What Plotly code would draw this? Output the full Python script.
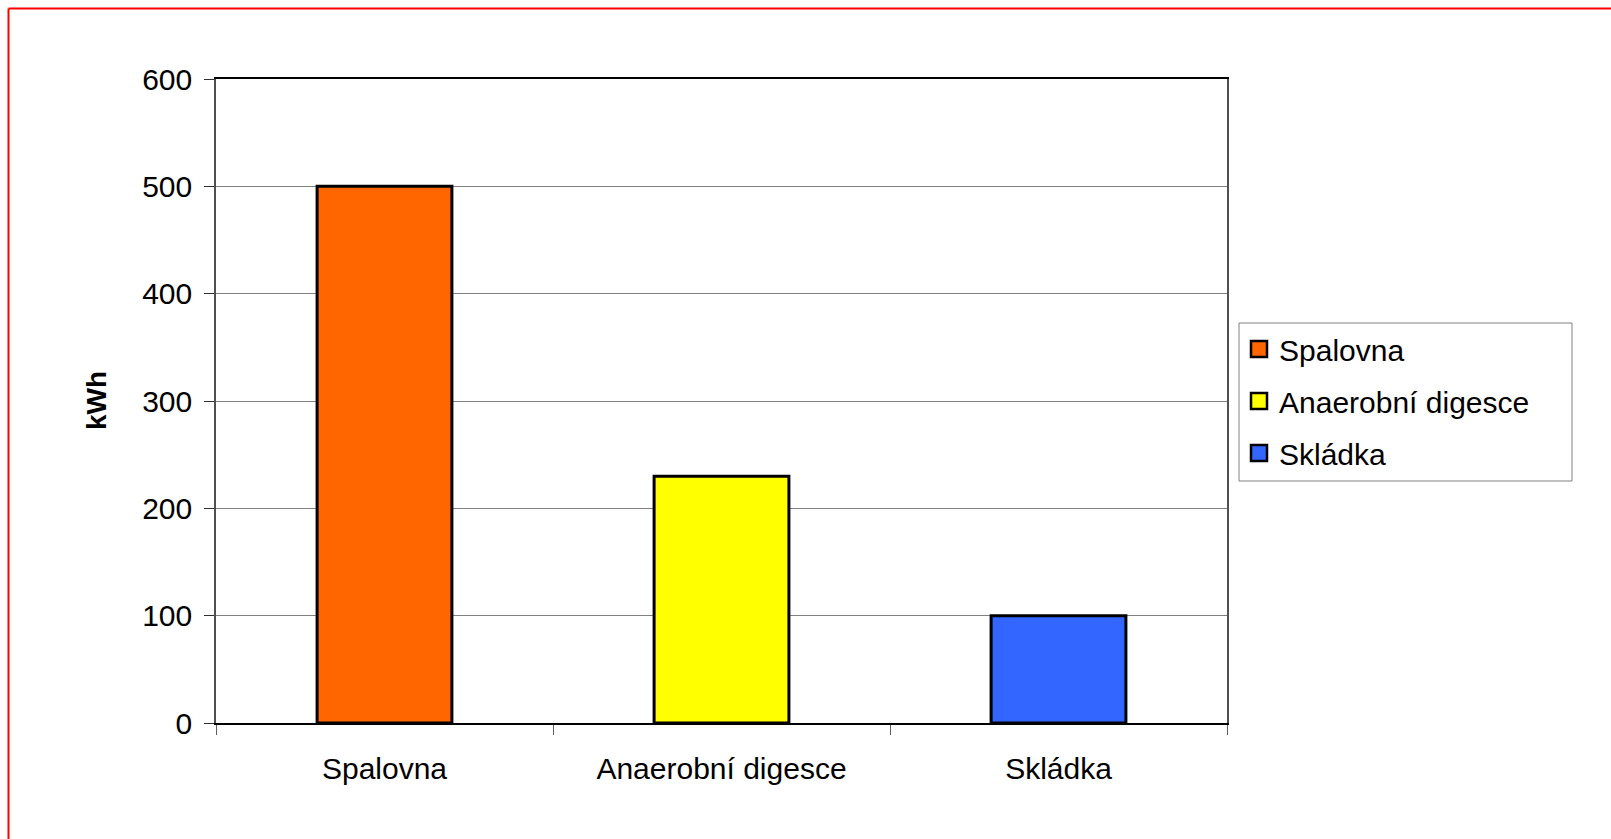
import plotly.graph_objects as go

categories = ["Spalovna", "Anaerobní digesce", "Skládka"]
values = [500, 230, 100]
colors = ["#FF6600", "#FFFF00", "#3366FF"]
y_ticks = [0, 100, 200, 300, 400, 500, 600]
y_title = "kWh"

W, H = 1611, 839
L, R, T, B = 216, 1227, 79, 723  # plot area in px

def px_x(p):
    return (p - L) / (R - L)

def px_y(p):
    return (B - p) / (B - T)

FONT = "Liberation Sans, Arial, sans-serif"

fig = go.Figure()
fig.add_trace(go.Bar(
    x=categories, y=values,
    marker=dict(color=colors, line=dict(color="black", width=3)),
    width=0.4, showlegend=False,
))
for i, (c, col) in enumerate(zip(categories, colors)):
    fig.add_trace(go.Scatter(
        x=[None], y=[None], mode="markers", name=c,
        legendgroup=f"g{i}",
        marker=dict(symbol="square", size=16, color=col,
                    line=dict(color="black", width=2.5)),
    ))

fig.update_layout(
    width=W, height=H,
    margin=dict(l=L, r=W - R, t=T, b=H - B, pad=0),
    paper_bgcolor="white", plot_bgcolor="white",
    font=dict(family=FONT, size=30, color="black"),
    legend=dict(
        x=px_x(1239), y=px_y(323), xanchor="left", yanchor="top",
        borderwidth=0, bgcolor="rgba(0,0,0,0)",
        font=dict(size=30), tracegroupgap=10, itemsizing="trace",
    ),
    xaxis=dict(
        type="category", range=[-0.5, 2.5],
        showline=True, linecolor="black", linewidth=1.5, mirror=True,
        ticks="outside", ticklen=10, tickcolor="#606060", tickson="boundaries",
        ticklabelstandoff=18, showgrid=False,
        tickfont=dict(size=30),
    ),
    yaxis=dict(
        range=[0, 600], tickvals=y_ticks,
        showline=True, linecolor="#505050", linewidth=1.5, mirror=True,
        ticks="outside", ticklen=10, tickcolor="#303030",
        showgrid=True, gridcolor="#808080", gridwidth=1.2,
        ticklabelstandoff=6, tickfont=dict(size=30), zeroline=False,
    ),
    shapes=[
        dict(type="line", xref="paper", yref="paper",
             x0=px_x(8.5), x1=px_x(W + 10), y0=px_y(8.5), y1=px_y(8.5),
             line=dict(color="#FF0000", width=2)),
        dict(type="line", xref="paper", yref="paper",
             x0=px_x(8.5), x1=px_x(8.5), y0=px_y(8.5), y1=px_y(H + 10),
             line=dict(color="#FF0000", width=2)),
        dict(type="rect", xref="paper", yref="paper",
             x0=px_x(1239), x1=px_x(1572), y0=px_y(323), y1=px_y(481),
             line=dict(color="#808080", width=1), fillcolor="rgba(0,0,0,0)"),
    ],
    annotations=[
        dict(text=f"<b>{y_title}</b>", xref="paper", yref="paper",
             x=px_x(96), y=px_y(401), textangle=-90, showarrow=False,
             font=dict(size=28, family=FONT), xanchor="center", yanchor="middle"),
    ],
)

fig.write_html("out.html")
